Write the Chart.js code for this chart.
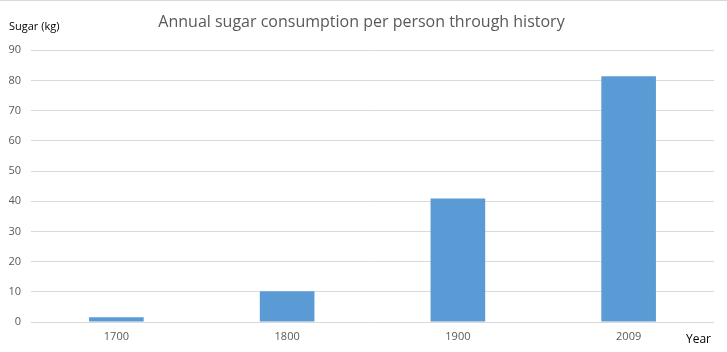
<!DOCTYPE html>
<html>
<head>
<meta charset="utf-8">
<script src="https://cdn.jsdelivr.net/npm/chart.js@4"></script>
<style>
html,body{margin:0;padding:0;background:#fff;}
#wrap{width:727px;height:352px;}
</style>
</head>
<body>
<div id="wrap"><canvas id="c" width="727" height="352"></canvas></div>
<script>
const categories = ["1700", "1800", "1900", "2009"];
const sugarKg = [1.6, 10.2, 40.9, 81.4];
const yTicks = [0, 10, 20, 30, 40, 50, 60, 70, 80, 90];
const titleText = "Annual sugar consumption per person through history";
const yAxisLabel = "Sugar (kg)";
const xAxisLabel = "Year";

const FONT = "'Open Sans', 'Liberation Sans', sans-serif";

const axisLabels = {
  id: 'axisLabels',
  beforeDraw(chart) {
    const ctx = chart.ctx;
    ctx.save();
    ctx.strokeStyle = '#d9d9d9';
    ctx.lineWidth = 1;
    ctx.beginPath();
    ctx.moveTo(0, 0.5);
    ctx.lineTo(chart.width, 0.5);
    ctx.stroke();
    ctx.restore();
  },
  afterDraw(chart) {
    const ctx = chart.ctx;
    ctx.save();
    ctx.fillStyle = '#000';
    ctx.font = "11px " + FONT;
    ctx.textBaseline = 'middle';
    ctx.textAlign = 'left';
    ctx.fillText(yAxisLabel, 9, 27);
    ctx.font = "12px " + FONT;
    ctx.fillText(xAxisLabel, 686, 340);
    ctx.restore();
  }
};

new Chart(document.getElementById('c'), {
  type: 'bar',
  data: {
    labels: categories,
    datasets: [{
      data: sugarKg,
      backgroundColor: '#5b9bd5',
      barPercentage: 0.32,
      categoryPercentage: 1.0
    }]
  },
  options: {
    responsive: false,
    animation: false,
    layout: { padding: { top: 0, left: 9, right: 13, bottom: 0 } },
    plugins: {
      legend: { display: false },
      tooltip: { enabled: false },
      title: {
        display: true,
        text: titleText,
        color: '#595959',
        font: { family: FONT, size: 16, weight: 'normal' },
        padding: { top: 13, bottom: 18 }
      }
    },
    scales: {
      x: {
        grid: { display: false, drawTicks: false },
        border: { display: false },
        ticks: { color: '#595959', font: { family: FONT, size: 11 }, padding: 8, maxRotation: 0 },
        afterFit(scale) { scale.height = 30; }
      },
      y: {
        min: 0, max: 90,
        afterBuildTicks(scale) { scale.ticks = yTicks.map(v => ({ value: v })); },
        grid: { color: '#d9d9d9', drawTicks: false, lineWidth: 1 },
        border: { display: false },
        ticks: { color: '#595959', font: { family: FONT, size: 11 }, padding: 10 },
        afterFit(scale) { scale.width = 22; }
      }
    }
  },
  plugins: [axisLabels]
});
</script>
</body>
</html>
